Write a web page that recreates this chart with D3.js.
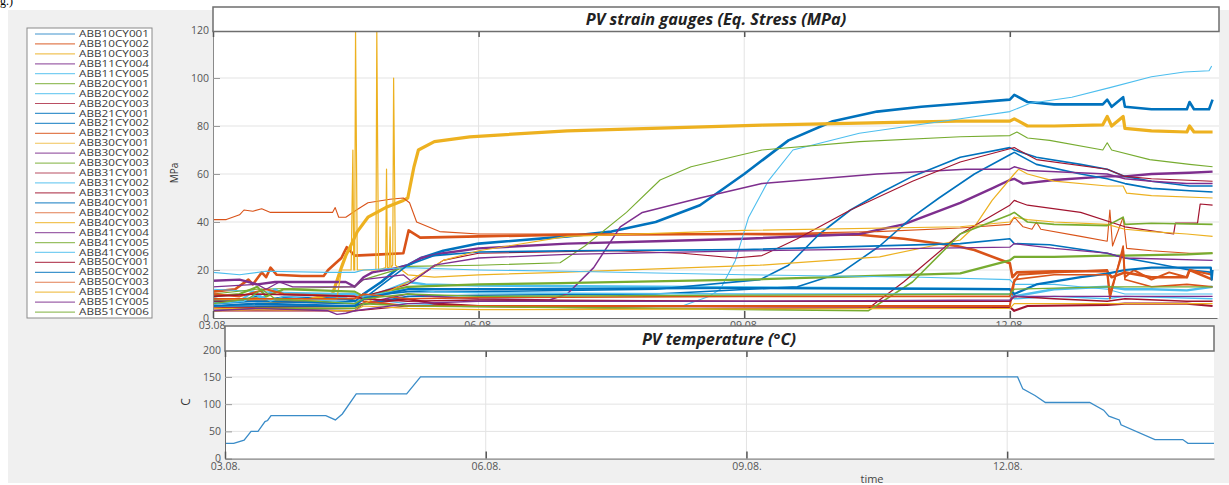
<!DOCTYPE html>
<html lang="en">
<head>
<meta charset="UTF-8">
<title>PV strain gauges / PV temperature</title>
<script src="https://cdn.jsdelivr.net/npm/d3@7"></script>
<style>
  body { margin: 0; background: #fff; }
  svg text { font-family: "Open Sans", sans-serif; }
</style>
</head>
<body>
<script>
// ---- data (day offset from 03.08. 00:00, value) ----
var seriesNames = ["ABB10CY001","ABB10CY002","ABB10CY003","ABB11CY004","ABB11CY005","ABB20CY001",
  "ABB20CY002","ABB20CY003","ABB21CY001","ABB21CY002","ABB21CY003","ABB30CY001","ABB30CY002",
  "ABB30CY003","ABB31CY001","ABB31CY002","ABB31CY003","ABB40CY001","ABB40CY002","ABB40CY003",
  "ABB41CY004","ABB41CY005","ABB41CY006","ABB50CY001","ABB50CY002","ABB50CY003","ABB51CY004",
  "ABB51CY005","ABB51CY006"];

var s01 = [[0,8],[0.3,7],[0.5,9],[0.6,7.5],[0.8,8.5],[1.5,8],[1.62,7],[1.7,10],[1.9,15],[2.1,21],[2.2,22],[2.35,25],[2.6,28],[3,31],[4,34],[4.5,36],[5,40],[5.5,47],[6,60],[6.5,74],[7,82],[7.5,86],[8,88],[8.5,89.5],[9.0,91],[9.05,93],[9.2,90],[9.5,89],[10.05,89],[10.1,91],[10.15,88],[10.28,92],[10.3,88],[10.6,87],[11.0,87],[11.03,90],[11.08,87],[11.25,87],[11.29,91]];
var s02 = [[0,11],[0.25,12],[0.4,16],[0.45,14],[0.55,19],[0.6,17],[0.65,21],[0.72,18],[1.0,17.5],[1.25,17.5],[1.3,20],[1.45,25],[1.51,29.5],[1.6,26],[1.9,26.5],[2.15,27],[2.21,36.5],[2.34,33.5],[3,34],[4,34.7],[6,35],[7.3,34.7],[7.8,33],[8.4,30],[8.6,28.3],[9.0,22.8],[9.03,17],[9.08,19],[9.5,19.5],[10.1,19.5],[10.15,17],[10.3,19],[10.6,17],[11.0,17],[11.03,20],[11.29,16]];
var s03 = [[0,7],[0.5,8],[1.0,7],[1.35,10],[1.45,21],[1.5,26],[1.58,32],[1.63,36],[1.75,42],[1.95,46],[2.15,49],[2.2,50],[2.27,63],[2.32,70],[2.5,73.5],[2.9,75.5],[4,78],[6.2,80.4],[8.4,82],[9.0,82],[9.05,83],[9.1,82],[9.2,80],[9.5,80],[10.05,80.5],[10.1,84],[10.15,80],[10.28,84],[10.3,79],[10.6,78],[11.0,77.5],[11.03,80],[11.08,77.5],[11.29,77.5]];
var s04 = [[0,15.5],[0.3,16],[0.5,14],[0.7,15],[1.5,15],[1.6,13],[1.7,17],[1.8,19],[2.1,21],[2.2,22],[2.35,25],[2.6,27],[3,29],[4,31],[5,32],[6,33],[7.3,35],[7.8,39],[8.44,48],[8.8,54],[9.0,57.5],[9.05,58],[9.15,56],[9.5,57.5],[10.1,59],[10.3,59],[10.6,60],[11.03,60.5],[11.29,61]];
var s05 = [[0,12],[0.5,11],[1.6,10],[1.7,8],[2.2,6],[3,5],[4,5],[5,5],[5.3,5],[5.6,9],[5.73,12],[5.9,24],[6.05,42],[6.27,57],[6.55,70],[7.3,77],[8.44,83],[9.0,86],[9.23,89.5],[9.7,92],[10.13,96],[10.6,100.5],[10.97,102.5],[11.25,103],[11.28,105]];
var s06 = [[0,10],[0.5,12],[1.6,13],[1.7,16],[2.2,21.5],[3,22],[3.92,23],[4.2,30],[4.67,44],[5.05,57.5],[5.4,63],[6.2,70],[7.3,73.5],[8.44,75.5],[9.0,76],[9.08,77.5],[9.2,75],[9.45,74],[10.05,70],[10.1,73],[10.15,70],[10.58,66],[11.03,64],[11.29,63]];
var s07 = [[0,6],[0.3,7],[0.45,11],[0.55,8],[0.7,12],[0.8,10],[1.6,10],[1.7,8],[2.0,12],[2.2,15],[2.4,14],[3,13.5],[5,13],[7,12.5],[9.0,12],[9.05,9],[9.5,12],[10.1,13],[10.3,12],[10.6,12],[11.0,11.5],[11.29,13]];
var s08 = [[0,4],[0.5,4.5],[1.6,5],[1.7,6],[2.2,8],[2.5,6],[3,5],[5,5],[9.0,4.6],[9.05,3],[9.2,5],[10.1,5.5],[10.3,6],[11.0,6],[11.29,5]];
var s09 = [[0,7],[1.6,7],[1.7,9],[2.2,11],[3,11],[5,12],[6.18,16],[6.5,22],[6.85,35],[7.2,45],[7.53,52],[7.9,59],[8.44,67],[9.0,71],[9.05,70],[9.3,67],[9.8,64],[10.1,62],[10.3,59],[10.6,57],[11.03,55],[11.29,55]];
var s10 = [[0,5],[1.6,5],[2.2,9],[3,9.5],[5,10],[6.6,13],[7.1,19],[7.53,30],[7.9,42],[8.2,50],[8.6,60],[9.0,68],[9.05,69],[9.3,64],[9.8,60],[10.1,58],[10.3,56],[10.6,54],[11.03,53],[11.29,52.5]];
var s11 = [[0,41],[0.15,41],[0.3,43],[0.35,45],[0.45,44.5],[0.55,45.5],[0.65,44],[1.0,44],[1.35,44],[1.38,46],[1.42,42],[1.5,42],[1.62,45],[1.75,48],[2.0,49.5],[2.15,50],[2.22,48],[2.3,40],[2.56,36],[3.0,35],[4,35],[6,35],[7.5,36],[8.44,37.5],[9.0,39],[9.05,42],[9.15,38],[9.25,37],[9.3,40],[9.35,37],[9.8,34],[10.1,32],[10.13,45],[10.16,30],[10.28,42],[10.32,29],[10.6,28],[11.03,27],[11.29,27]];
var s12 = [[0,5],[0.5,6],[1.4,8],[1.45,20],[1.56,20],[1.58,70],[1.59,20],[1.6,20],[1.61,120],[1.63,20],[1.84,20],[1.85,120],[1.87,20],[1.95,21],[1.96,62],[1.97,21],[1.99,21],[2.0,38],[2.01,21],[2.03,22],[2.04,100],[2.06,22],[2.2,18],[2.5,17],[3,18],[3.92,19],[6.18,22],[7.53,25.5],[8.44,32.5],[8.6,38],[8.8,49],[9.05,60],[9.1,62],[9.2,60],[9.5,57],[10.1,55],[10.28,55],[10.32,52],[10.6,51],[11.29,50]];
var s13 = [[0,3],[0.5,4],[1.6,3],[1.7,6],[2.2,10],[2.5,9],[3,8],[3.8,7.5],[4.0,10],[4.3,21],[4.6,38],[4.85,44],[5.5,50],[6.2,56],[7.5,60],[8.5,62],[9.0,62],[9.05,63],[9.2,61.5],[10.1,60],[10.3,58],[10.6,57],[11.0,56],[11.29,56]];
var s14 = [[0,9],[0.3,10],[0.5,13],[0.6,9],[0.8,12],[1.6,11],[1.7,9],[2.2,13],[3,14],[3.92,14.5],[6,16],[8.44,18.6],[9.0,24],[9.05,25.5],[9.5,25.5],[10.1,26],[10.28,26],[11.0,26.5],[11.29,27]];
var s15 = [[0,7],[0.5,7],[1.6,6],[1.7,9],[2.2,14],[2.6,24],[3,27],[4.5,28],[5.3,27],[5.9,25],[6.2,26],[6.6,33],[7.2,45],[7.9,57],[8.44,65],[9.0,70.5],[9.05,71],[9.3,66],[10.1,62],[10.3,59],[10.6,58],[11.29,57]];
var s16 = [[0,19],[0.3,18],[0.6,19.5],[1.3,19],[1.6,19],[1.7,20],[2.2,21],[3,20],[4,19.5],[6,18],[8,17],[9.0,16],[9.05,14],[9.5,14],[10.1,12],[10.3,10],[11.29,10]];
var s17 = [[0,3],[1.6,3],[2.2,5],[5,4],[7.4,4],[7.8,15],[8.44,35],[9.0,47],[9.05,49],[9.2,47],[9.8,44],[10.3,38],[10.85,35],[10.87,39.5],[11.12,39.5],[11.15,47.5],[11.29,47]];
var s18 = [[0,6],[0.5,7],[1.6,6],[1.7,8],[2.2,22],[2.5,26],[3,27.5],[4,28],[6,28.5],[8.44,31],[9.0,33],[9.05,31],[9.45,30.5],[10.1,27],[10.3,25],[10.6,23],[11.03,20],[11.29,19]];
var s19 = [[0,10],[0.3,9],[0.6,12],[0.8,10],[1.6,9],[1.7,7],[2.2,5],[3,5],[6,5],[9.0,5],[9.05,15],[9.1,18],[9.5,19],[10.1,20],[10.13,10],[10.28,28],[10.3,17],[10.4,20],[10.6,16],[10.8,19],[11.0,17],[11.03,20],[11.29,18]];
var s20 = [[0,4],[1.6,4],[2.2,15],[2.6,24],[3,28],[4,34],[6,36.5],[8.44,38],[9.0,40],[9.05,42],[9.2,41],[9.5,40],[10.1,39],[10.3,37],[10.6,36],[11.0,35],[11.29,34]];
var s21 = [[0,13],[0.5,14],[0.6,12],[0.75,15],[0.9,13],[1.6,13],[1.7,16],[2.15,18],[2.25,15],[2.5,22],[3,25],[4,26.5],[6,28],[9.0,29.5],[9.05,31],[9.5,29],[10.1,27],[10.3,25],[11.29,24]];
var s22 = [[0,3],[0.5,4],[1.6,4],[1.7,6],[2.2,5],[5,4],[7.4,3],[7.9,15],[8.44,35],[9.0,43],[9.05,44],[9.2,40],[9.5,39],[10.1,38.5],[10.28,42],[10.3,39],[10.6,39.5],[11.29,39]];
var s23 = [[0,6],[0.35,7],[0.5,10],[0.65,7],[0.8,9],[1.6,6],[1.7,9],[2.2,12],[2.5,11],[3,10.5],[6,10],[9.0,10],[9.05,8],[9.5,9],[10.1,8],[10.3,9],[11.29,8]];
var s24 = [[0,9],[0.5,10],[1.6,9],[1.7,8],[2.2,7],[3,7.5],[6,7],[9.0,7],[9.05,9],[9.5,8],[10.1,7],[10.3,8],[11.0,7],[11.29,7]];
var s25 = [[0,5],[0.5,6],[1.6,5],[1.7,8],[2.2,12],[3,12],[6,12.5],[9.0,12],[9.05,10],[9.3,14],[9.8,17],[10.1,18.5],[10.3,20],[10.6,21],[11.0,21],[11.27,21],[11.28,16],[11.29,20]];
var s26 = [[0,8],[0.5,8],[1.6,8],[1.7,10],[2.2,8],[3,8.5],[6,9],[9.0,9],[9.05,16],[9.5,18],[10.1,18],[10.13,8],[10.28,30],[10.3,16],[10.6,13],[11.0,14],[11.29,13]];
var s27 = [[0,3],[0.5,3.5],[1.6,3],[1.7,5],[2.2,4],[3,3.5],[9,4],[9.05,6],[10.1,6],[11.29,6]];
var s28 = [[0,3],[0.5,4],[1.3,3],[1.4,1.5],[1.5,2],[1.6,3],[2.2,6],[3,7],[6,7],[9.0,7.5],[9.05,9],[10.1,9],[11.29,9]];
var s29 = [[0,6],[0.4,8],[0.55,12],[0.7,8],[1.6,6],[1.7,8],[2.2,10],[3,9],[6,9.5],[9.0,10],[9.05,12],[10.1,13],[11.29,13]];

var strainData = [s01,s02,s03,s04,s05,s06,s07,s08,s09,s10,s11,s12,s13,s14,s15,
                  s16,s17,s18,s19,s20,s21,s22,s23,s24,s25,s26,s27,s28,s29];

var tempData = [[0,28],[0.1,28],[0.22,34],[0.3,50],[0.38,50],[0.46,68],[0.49,70],[0.53,79],[1.16,79],
  [1.27,71],[1.35,82],[1.51,119],[2.09,119],[2.25,150],[9.12,150],[9.18,128],[9.32,116],[9.44,103],
  [9.95,103],[10.11,89],[10.17,78],[10.29,71],[10.31,62],[10.7,35],[11.02,35],[11.08,28],[11.38,28]];

var dateTicks = ["2019-08-03","2019-08-06","2019-08-09","2019-08-12"];
var stressTicks = [0,20,40,60,80,100,120];
var tempTicks = [0,50,100,150,200];

// ---- styles ----
var C = {blue:"#0072BD", orange:"#D95319", yellow:"#EDB120", purple:"#7E2F8E",
         green:"#77AC30", lblue:"#4DBEEE", dred:"#A2142F"};
var seriesColors = [C.blue,C.orange,C.yellow,C.purple,C.lblue,C.green,C.lblue,C.dred,C.blue,C.blue,
  C.orange,C.yellow,C.purple,C.green,C.dred,C.lblue,C.dred,C.blue,C.orange,C.yellow,C.purple,
  C.green,C.lblue,C.dred,C.blue,C.orange,C.yellow,C.purple,C.green];
var seriesWidths = [2.6,2.6,3.2,2.4,1.1,1.1,2.4,2.2,1.6,1.6,1.1,1.2,1.5,2.2,1.1,1.1,1.2,1.6,2,1.1,
  1.3,1.6,1.4,1.6,2.2,1.6,1.2,1.4,1.3];

var parseDate = d3.timeParse("%Y-%m-%d");
var fmt = d3.timeFormat("%d.%m.");
var base = parseDate(dateTicks[0]);
function toDate(d) { return new Date(base.getTime() + d * 864e5); }
var tickDates = dateTicks.map(parseDate);

var W = 1229, H = 485;
var svg = d3.select("body").append("svg").attr("width", W).attr("height", H);

svg.append("rect").attr("x", 8).attr("y", 10).attr("width", W - 8).attr("height", 473).attr("fill", "#f0f0f0");
svg.append("text").attr("x", 0).attr("y", 5).attr("font-size", 12)
  .style("font-family", "'Liberation Serif', serif").attr("fill", "#000").text("g.)");

// ---- legend ----
var leg = svg.append("g");
leg.append("rect").attr("x", 27).attr("y", 28).attr("width", 125).attr("height", 290)
  .attr("fill", "#fff").attr("stroke", "#8a8a8a");
seriesNames.forEach(function(n, i) {
  var yy = 34 + i * 9.93;
  leg.append("line").attr("x1", 35).attr("x2", 75).attr("y1", yy).attr("y2", yy)
    .attr("stroke", seriesColors[i]).attr("stroke-width", 1.2).attr("opacity", 0.75);
  leg.append("text").attr("x", 79).attr("y", yy).attr("dy", "0.35em").attr("font-size", 8.8)
    .attr("textLength", 70).attr("lengthAdjust", "spacingAndGlyphs").attr("fill", "#3a3a3a").text(n);
});

function styleAxis(g, col) {
  g.selectAll(".domain").attr("stroke", col);
  g.selectAll(".tick line").attr("stroke", "#6a6a6a");
  g.selectAll(".tick text").attr("fill", "#555").attr("font-size", 10.5)
    .style("font-family", "'Open Sans', sans-serif");
}

// ---- top panel ----
var x1 = d3.scaleTime().domain([base, toDate(11.34)]).range([213, 1217]);
var y1 = d3.scaleLinear().domain([0, 120]).range([318, 30]);

svg.append("rect").attr("x", 213).attr("y", 30).attr("width", 1006).attr("height", 288).attr("fill", "#fff");
svg.append("defs").append("clipPath").attr("id", "clipTop")
  .append("rect").attr("x", 213).attr("y", 30).attr("width", 1006).attr("height", 288);

var gridTop = svg.append("g").attr("stroke", "#e3e3e3").attr("stroke-width", 1);
stressTicks.slice(1, -1).forEach(function(v) {
  gridTop.append("line").attr("x1", 213).attr("x2", 1219).attr("y1", y1(v)).attr("y2", y1(v));
});
tickDates.slice(1).forEach(function(d) {
  gridTop.append("line").attr("x1", x1(d)).attr("x2", x1(d)).attr("y1", 30).attr("y2", 318);
});

var line1 = d3.line().x(function(p) { return x1(toDate(p[0])); }).y(function(p) { return y1(p[1]); });
svg.append("g").attr("clip-path", "url(#clipTop)").selectAll("path")
  .data(strainData).enter().append("path")
  .attr("d", line1).attr("fill", "none")
  .attr("stroke", function(d, i) { return seriesColors[i]; })
  .attr("stroke-width", function(d, i) { return seriesWidths[i]; })
  .attr("stroke-linejoin", "round");

var axL1 = svg.append("g").attr("transform", "translate(213,0)")
  .call(d3.axisLeft(y1).tickValues(stressTicks).tickSize(-7).tickSizeOuter(0).tickPadding(4));
styleAxis(axL1, "#8a8a8a");
axL1.selectAll(".tick line").attr("stroke", "#9a9a9a");

var axT1 = svg.append("g").attr("transform", "translate(0,30)")
  .call(d3.axisTop(x1).tickValues(tickDates).tickSize(-7).tickSizeOuter(0).tickFormat(""));
axT1.select(".domain").remove();
axT1.selectAll(".tick line").attr("stroke", "#555").attr("stroke-width", 1.5);

svg.append("rect").attr("x", 213).attr("y", 7).attr("width", 1006).attr("height", 24.5)
  .attr("fill", "#fff").attr("stroke", "#6e6e6e").attr("stroke-width", 1.5);
svg.append("text").attr("x", 716).attr("y", 24.5).attr("text-anchor", "middle")
  .attr("font-size", 16.3).attr("font-weight", "bold").attr("font-style", "italic").attr("fill", "#222")
  .text("PV strain gauges (Eq. Stress (MPa)");

var axB1 = svg.append("g").attr("transform", "translate(0,318)")
  .call(d3.axisBottom(x1).tickValues(tickDates).tickSize(-7).tickSizeOuter(0).tickPadding(4).tickFormat(fmt));
styleAxis(axB1, "#6a6a6a");
axB1.selectAll(".tick line").attr("stroke", "#555").attr("stroke-width", 1.5);

svg.append("text").attr("transform", "translate(178,173) rotate(-90)").attr("text-anchor", "middle")
  .attr("font-size", 10).attr("fill", "#333").text("MPa");

// ---- bottom panel ----
var x2 = d3.scaleTime().domain([base, toDate(11.38)]).range([225, 1214]);
var y2 = d3.scaleLinear().domain([0, 200]).range([458.6, 349.7]);

svg.append("rect").attr("x", 225).attr("y", 350).attr("width", 989).attr("height", 108.6).attr("fill", "#fff");
var gridBot = svg.append("g").attr("stroke", "#e3e3e3").attr("stroke-width", 1);
tempTicks.slice(1, -1).forEach(function(v) {
  gridBot.append("line").attr("x1", 225).attr("x2", 1214).attr("y1", y2(v)).attr("y2", y2(v));
});
tickDates.slice(1).forEach(function(d) {
  gridBot.append("line").attr("x1", x2(d)).attr("x2", x2(d)).attr("y1", 350).attr("y2", 458.6);
});

var line2 = d3.line().x(function(p) { return x2(toDate(p[0])); }).y(function(p) { return y2(p[1]); });
svg.append("path").datum(tempData).attr("d", line2).attr("fill", "none")
  .attr("stroke", "#3a8cc8").attr("stroke-width", 1.3);

var axL2 = svg.append("g").attr("transform", "translate(225,0)")
  .call(d3.axisLeft(y2).tickValues(tempTicks).tickSize(-7).tickSizeOuter(0).tickPadding(4));
styleAxis(axL2, "#6a6a6a");
axL2.selectAll(".tick line").attr("stroke", "#9a9a9a");

var axT2 = svg.append("g").attr("transform", "translate(0,350)")
  .call(d3.axisTop(x2).tickValues(tickDates).tickSize(-7).tickSizeOuter(0).tickFormat(""));
axT2.select(".domain").remove();
axT2.selectAll(".tick line").attr("stroke", "#555").attr("stroke-width", 1.5);

svg.append("rect").attr("x", 225).attr("y", 326).attr("width", 989).attr("height", 25)
  .attr("fill", "#fff").attr("stroke", "#6e6e6e").attr("stroke-width", 1.5);
svg.append("text").attr("x", 719).attr("y", 344.5).attr("text-anchor", "middle")
  .attr("font-size", 16.3).attr("font-weight", "bold").attr("font-style", "italic").attr("fill", "#222")
  .text("PV temperature (°C)");

var axB2 = svg.append("g").attr("transform", "translate(0,458.6)")
  .call(d3.axisBottom(x2).tickValues(tickDates).tickSize(-7).tickSizeOuter(0).tickPadding(4).tickFormat(fmt));
styleAxis(axB2, "#6a6a6a");
axB2.selectAll(".tick line").attr("stroke", "#555").attr("stroke-width", 1.5);

svg.append("text").attr("transform", "translate(190,402) rotate(-90)").attr("text-anchor", "middle")
  .attr("font-size", 12).attr("fill", "#333").text("C");
svg.append("text").attr("x", 872).attr("y", 483).attr("text-anchor", "middle")
  .attr("font-size", 11).attr("fill", "#444").text("time");
</script>
</body>
</html>
